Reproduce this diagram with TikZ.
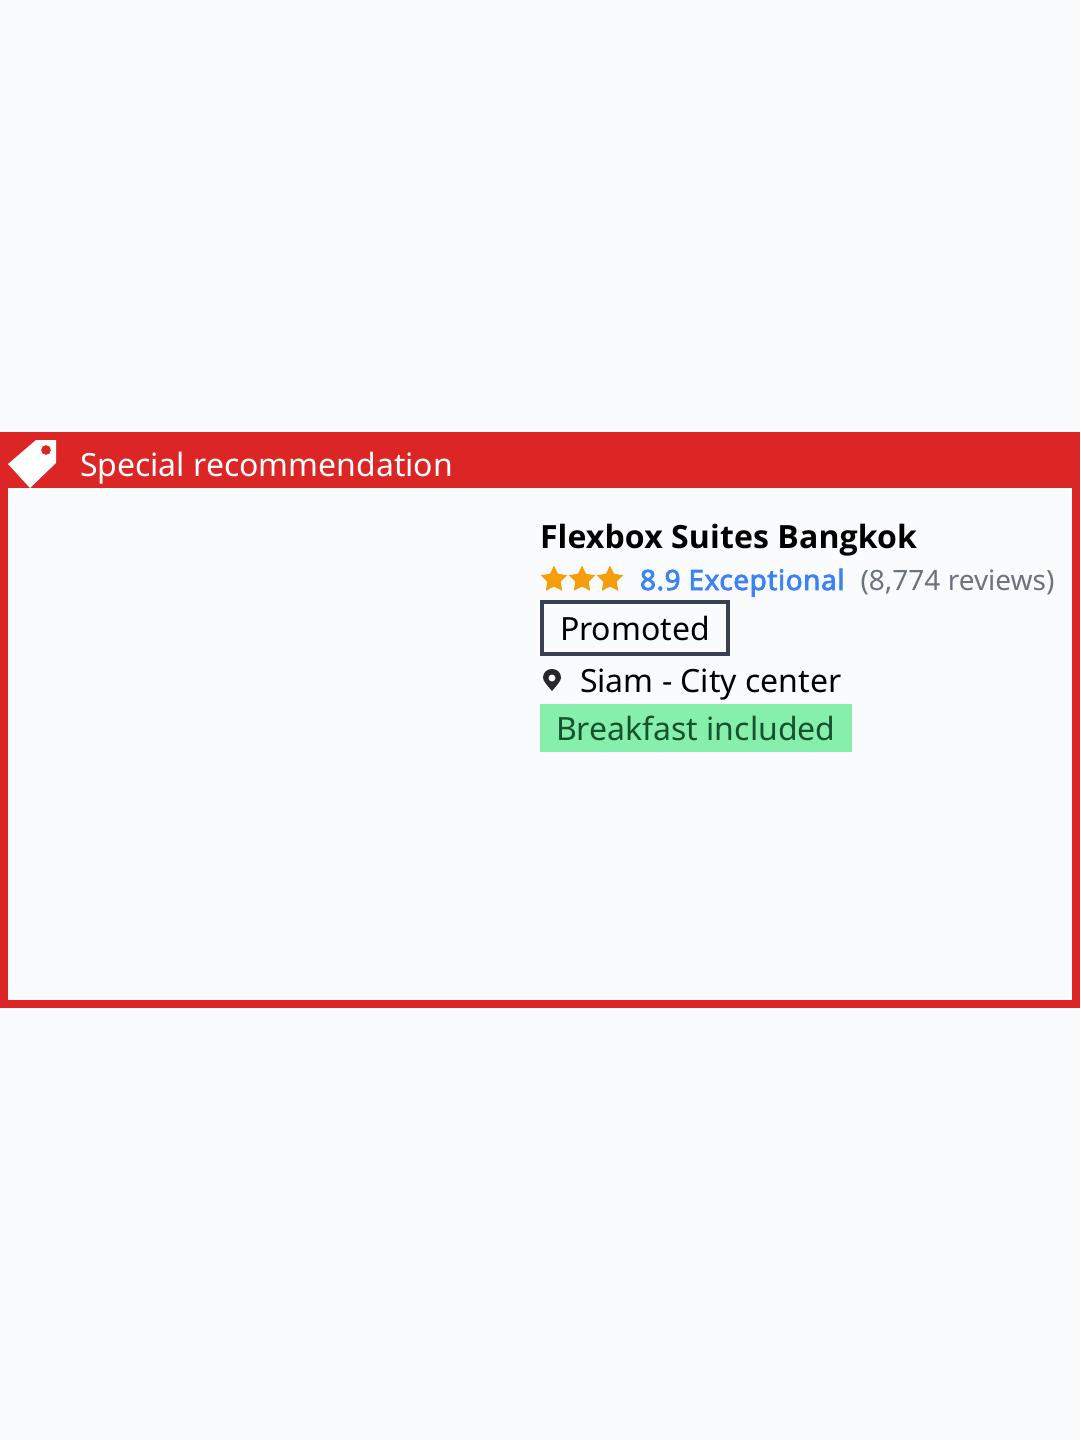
\documentclass[tikz,border=0pt]{standalone}
\usepackage{fontspec}
\setmainfont{Noto Sans}
\newfontfamily\boldfam{Open Sans}[LetterSpace=0.4]
\newfontfamily\semifam{Noto Sans}[FakeBold=2.6,LetterSpace=1.9]
\usetikzlibrary{shapes.geometric}
\definecolor{pagebg}{HTML}{F9FBFD}
\definecolor{redc}{HTML}{DC2626}
\definecolor{bluec}{HTML}{3B82F6}
\definecolor{grayc}{HTML}{6B7280}
\definecolor{slatec}{HTML}{374151}
\definecolor{greenbg}{HTML}{86EFAC}
\definecolor{greentx}{HTML}{14532D}
\definecolor{starc}{HTML}{F59E0B}
\definecolor{pinc}{HTML}{27272A}
\tikzset{
  txt/.style={anchor=base west,inner sep=0pt,outer sep=0pt},
  starn/.style={star,star points=5,star point ratio=2.0,fill=starc,draw=none,minimum size=28pt,inner sep=0pt},
}
\newcommand{\fs}[1]{\fontsize{#1}{#1}\selectfont}
\begin{document}
\begin{tikzpicture}[x=1pt,y=-1pt]
\useasboundingbox (0,0) rectangle (1080,1440);
\fill[pagebg] (0,0) rectangle (1080,1440);
% card
\fill[redc] (0,432) rectangle (1080,1008);
\fill[pagebg] (8,488) rectangle (1072,1000);
% tag
\fill[white,even odd rule] (8,464) -- (36,440) -- (56,440) -- (56,463) -- (30,488) -- cycle
  (46,450) circle[radius=5];
\node[txt,text=white,font=\fs{32}] (title) at (80,476) {Special recommendation};
\node[txt,text=black,font=\boldfam\fs{32}\bfseries] (hotel) at (540,548) {Flexbox Suites Bangkok};
\node[starn] (s1) at (554,579.5) {};
\node[starn] (s2) at (582,579.5) {};
\node[starn] (s3) at (610,579.5) {};
\node[txt,text=bluec,font=\semifam\fs{28}] (score) at (640,590) {8.9 Exceptional};
\node[txt,text=grayc,font=\fs{28}] (reviews) at (860.5,590) {(8,774 reviews)};
\draw[slatec,line width=4pt] (542,602) rectangle (728,654);
\node[txt,text=black,font=\fs{32}] (promo) at (560,640) {Promoted};
% pin
\fill[pinc,even odd rule] (552,691) .. controls (547,685) and (543,681) .. (543,677.5)
  .. controls (543,672.5) and (547,669) .. (552,669)
  .. controls (557,669) and (561,672.5) .. (561,677.5)
  .. controls (561,681) and (557,685) .. (552,691) -- cycle
  (552,678) circle[radius=3.6];
\node[txt,text=black,font=\fs{32}] (loc) at (580,692) {Siam - City center};
\fill[greenbg] (540,704) rectangle (852,752);
\node[txt,text=greentx,font=\fs{32}] (bf) at (556,740) {Breakfast included};
\end{tikzpicture}
\end{document}
